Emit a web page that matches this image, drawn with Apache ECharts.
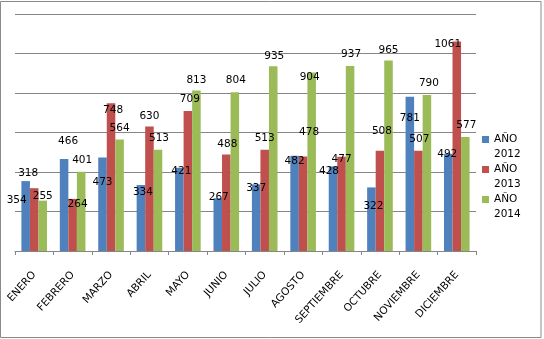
<!DOCTYPE html>
<html>
<head>
<meta charset="utf-8">
<script src="https://cdn.jsdelivr.net/npm/echarts@6/dist/echarts.min.js"></script>
<style>
  html, body { margin: 0; padding: 0; background: #ffffff; }
  #chart { width: 544px; height: 339px; }
</style>
</head>
<body>
<div id="chart"></div>
<script>
// Monthly totals per year
const months = ['ENERO', 'FEBRERO', 'MARZO', 'ABRIL', 'MAYO', 'JUNIO', 'JULIO',
  'AGOSTO', 'SEPTIEMBRE', 'OCTUBRE', 'NOVIEMBRE', 'DICIEMBRE'];
const seriesNames = ['AÑO 2012', 'AÑO 2013', 'AÑO 2014'];
const values2012 = [354, 466, 473, 334, 421, 267, 337, 482, 428, 322, 781, 492];
const values2013 = [318, 264, 748, 630, 709, 488, 513, 478, 477, 508, 507, 1061];
const values2014 = [255, 401, 564, 513, 813, 804, 935, 904, 937, 965, 790, 577];

// Hand-placed value labels: nudge [dx, dy] from the default spot above each bar
const labelNudge2012 = [[-9, 30], [4, -7], [0, 35], [2, 18], [2, 14], [1, 9], [0, 14], [0, 16], [-4, 15], [2, 29], [0, 32], [-1, 11]];
const labelNudge2013 = [[-6, -4], [5, 16], [2, 17], [0, 0], [2, -1], [1, 0], [0, -1], [6, -14], [0, 13], [2, -9], [1, -1], [-9, 13]];
const labelNudge2014 = [[0, 6], [1, -1], [0, -1], [1, -1], [0, 0], [1, -1], [1, 0], [-2, 15], [1, -1], [0, 0], [2, -1], [1, -1]];

const colors = ['#4F81BD', '#C0504D', '#9BBB59'];
const font = 'DejaVu Sans';

function buildData(values, nudges) {
  return values.map((v, i) => ({ value: v, label: { offset: nudges[i] } }));
}

function barSeries(name, values, nudges, color) {
  return {
    name: name,
    type: 'bar',
    data: buildData(values, nudges),
    barGap: '0%',
    barCategoryGap: '33.3%',
    itemStyle: { color: color },
    label: {
      show: true,
      position: 'top',
      distance: 5,
      color: '#000',
      fontFamily: font,
      fontSize: 10.5
    }
  };
}

const chart = echarts.init(document.getElementById('chart'), null, { renderer: 'canvas' });
chart.setOption({
  animation: false,
  backgroundColor: '#ffffff',
  color: colors,
  graphic: [{
    type: 'rect',
    shape: { x: 0.5, y: 1.5, width: 540.5, height: 336 },
    style: { fill: 'none', stroke: '#8a8a8a', lineWidth: 1 },
    silent: true
  }],
  grid: { left: 15, right: 68, top: 14, bottom: 88 },
  legend: {
    orient: 'vertical',
    left: 482,
    top: 132,
    padding: 0,
    itemWidth: 7,
    itemHeight: 22,
    itemGap: 0,
    icon: 'path://M0,0H7V7H0Z M0,22H0.05',
    formatter: name => name.replace(' ', '\n'),
    textStyle: { fontFamily: font, fontSize: 10.5, lineHeight: 15, color: '#000' },
    data: seriesNames
  },
  xAxis: {
    type: 'category',
    data: months,
    axisLine: { lineStyle: { color: '#868686', width: 1 } },
    axisTick: { show: true, length: 4, lineStyle: { color: '#868686' } },
    axisLabel: {
      rotate: 48,
      interval: 0,
      margin: 22,
      color: '#000',
      fontFamily: font,
      fontSize: 10.5
    }
  },
  yAxis: {
    type: 'value',
    min: 0,
    max: 1200,
    interval: 200,
    axisLine: { show: false },
    axisTick: { show: false },
    axisLabel: { show: false },
    splitLine: { lineStyle: { color: '#868686', width: 1 } }
  },
  series: [
    barSeries(seriesNames[0], values2012, labelNudge2012, colors[0]),
    barSeries(seriesNames[1], values2013, labelNudge2013, colors[1]),
    barSeries(seriesNames[2], values2014, labelNudge2014, colors[2])
  ]
});
</script>
</body>
</html>
